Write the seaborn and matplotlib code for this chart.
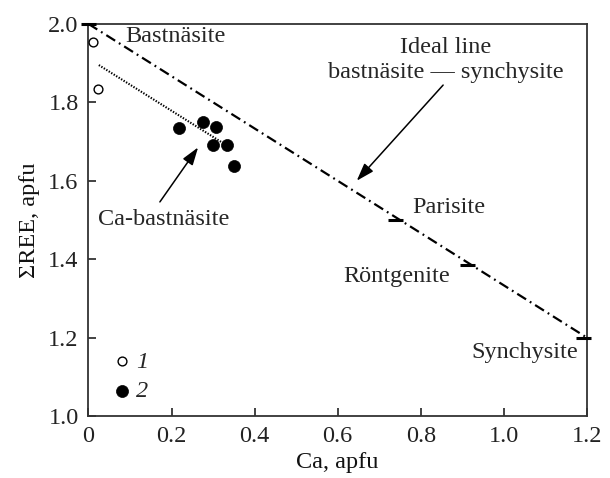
import matplotlib
matplotlib.use("Agg")
import matplotlib.pyplot as plt
import seaborn as sns
import pandas as pd

# ---- data ----
open_ca = [0.011, 0.023]
open_ree = [1.954, 1.834]
filled_ca = [0.219, 0.277, 0.307, 0.301, 0.333, 0.351]
filled_ree = [1.734, 1.751, 1.737, 1.690, 1.690, 1.638]

ideal_ca = [0.0, 1.2]
ideal_ree = [2.0, 1.2]
trend_ca = [0.025, 0.324]
trend_ree = [1.895, 1.696]

mineral_names = ["Bastnäsite", "Parisite", "Röntgenite", "Synchysite"]
mineral_ca = [0.0, 0.74, 0.913, 1.193]
mineral_ree = [2.0, 1.5, 1.385, 1.2]

x_ticks = [0, 0.2, 0.4, 0.6, 0.8, 1.0, 1.2]
x_labels = ["0", "0.2", "0.4", "0.6", "0.8", "1.0", "1.2"]
y_ticks = [1.0, 1.2, 1.4, 1.6, 1.8, 2.0]
y_labels = ["1.0", "1.2", "1.4", "1.6", "1.8", "2.0"]

sns.set_theme(style="ticks")
plt.rcParams['font.family'] = ['Liberation Serif', 'DejaVu Serif']
plt.rcParams['lines.scale_dashes'] = False
FS = 17.5

fig = plt.figure(figsize=(6.1, 4.78), dpi=100)
ax = fig.add_axes([0.145, 0.1297, 0.817, 0.8203])

df_open = pd.DataFrame({"Ca": open_ca, "REE": open_ree})
df_fill = pd.DataFrame({"Ca": filled_ca, "REE": filled_ree})

# ideal line
ax.plot(ideal_ca, ideal_ree, color="black", lw=1.6,
        linestyle=(0, (7.5, 3.2, 1.3, 3.2)), zorder=2)
# trend dotted line
ax.plot(trend_ca, trend_ree, color="black", lw=1.5,
        linestyle=(0, (1.0, 1.1)), zorder=2)

# mineral composition marks
ax.hlines(mineral_ree, [c - 0.018 for c in mineral_ca],
          [c + 0.018 for c in mineral_ca], color="black", lw=2.2,
          clip_on=False, zorder=3)

sns.scatterplot(data=df_open, x="Ca", y="REE", ax=ax, marker="o", s=40,
                facecolor="white", edgecolor="black", linewidth=1.0,
                label="1", zorder=4)
sns.scatterplot(data=df_fill, x="Ca", y="REE", ax=ax, marker="o", s=75,
                color="black", edgecolor="black", linewidth=0.5,
                label="2", zorder=4)

ax.set_xlim(0, 1.2)
ax.set_ylim(1.0, 2.0)
ax.set_xticks(x_ticks)
ax.set_xticklabels(x_labels)
ax.set_yticks(y_ticks)
ax.set_yticklabels(y_labels)
ax.tick_params(direction="in", length=6, width=1.2, labelsize=FS,
               colors="#222222", pad=7, top=False, right=False)
for sp in ax.spines.values():
    sp.set_visible(True)
    sp.set_linewidth(1.3)
    sp.set_color("#333333")

ax.set_xlabel("Ca, apfu", fontsize=FS, labelpad=4, color="#111111")
ax.set_ylabel("ΣREE, apfu", fontsize=FS, labelpad=6, color="#111111")

# labels
ax.text(0.088, 1.967, "Bastnäsite", fontsize=FS, ha="left", va="center")
ax.text(0.78, 1.531, "Parisite", fontsize=FS, ha="left", va="center")
ax.text(0.871, 1.355, "Röntgenite", fontsize=FS, ha="right", va="center")
ax.text(1.18, 1.163, "Synchysite", fontsize=FS, ha="right", va="center")
ax.text(0.023, 1.50, "Ca-bastnäsite", fontsize=FS, ha="left", va="center")
ax.text(0.86, 1.908, "Ideal line\nbastnäsite — synchysite", fontsize=FS,
        ha="center", va="center", linespacing=1.3)

arrow = dict(arrowstyle="-|>,head_length=0.9,head_width=0.3",
             color="black", lw=1.1, shrinkA=0, shrinkB=0)
ax.annotate("", xy=(0.264, 1.685), xytext=(0.172, 1.546), arrowprops=arrow)
ax.annotate("", xy=(0.646, 1.600), xytext=(0.854, 1.844), arrowprops=arrow)

leg = ax.legend(loc="lower left", bbox_to_anchor=(0.003, -0.008), frameon=False,
                handletextpad=0.0, labelspacing=0.3,
                borderpad=0.2, handlelength=1.2,
                prop={"family": "Liberation Serif", "style": "italic", "size": FS})

fig.savefig("out.png", dpi=100)
